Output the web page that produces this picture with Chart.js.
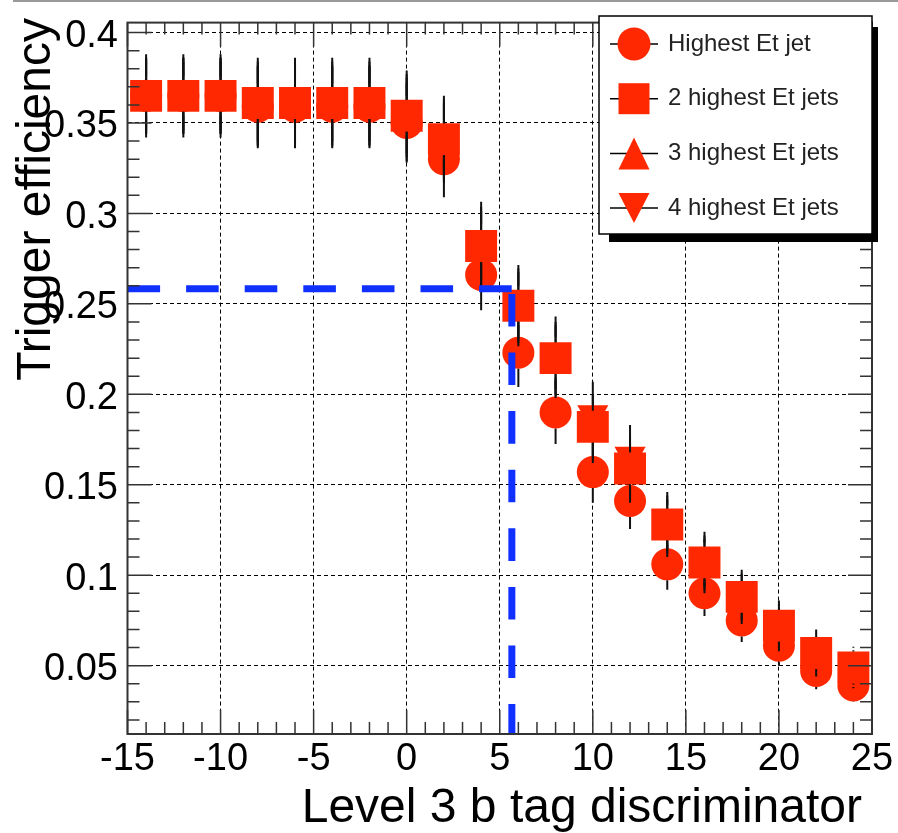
<!DOCTYPE html>
<html>
<head>
<meta charset="utf-8">
<script src="https://cdn.jsdelivr.net/npm/chart.js@4.4.1/dist/chart.umd.min.js"></script>
<style>
    html, body { margin: 0; padding: 0; background: #fff; }
    canvas { display: block; }
</style>
</head>
<body>
<canvas id="chart" width="898" height="833"></canvas>
<script>
// values
const xBins = [-14, -12, -10, -8, -6, -4, -2, 0, 2, 4, 6, 8, 10, 12, 14, 16, 18, 20, 22, 24];
const highestJet = [0.365, 0.365, 0.365, 0.359, 0.359, 0.359, 0.359, 0.350, 0.330, 0.266, 0.223, 0.190, 0.157, 0.141, 0.106, 0.090, 0.075, 0.061, 0.047, 0.039];
const twoJets    = [0.365, 0.365, 0.365, 0.361, 0.361, 0.361, 0.361, 0.354, 0.341, 0.282, 0.249, 0.220, 0.182, 0.159, 0.128, 0.107, 0.088, 0.072, 0.057, 0.049];
const threeJets  = [0.363, 0.363, 0.363, 0.359, 0.359, 0.359, 0.359, 0.352, 0.339, 0.280, 0.247, 0.218, 0.180, 0.157, 0.126, 0.105, 0.086, 0.070, 0.055, 0.047];
const fourJets   = [0.367, 0.367, 0.367, 0.363, 0.363, 0.363, 0.363, 0.356, 0.343, 0.285, 0.251, 0.223, 0.189, 0.166, 0.130, 0.109, 0.090, 0.074, 0.059, 0.051];
const errHighest = [0.021, 0.021, 0.021, 0.022, 0.022, 0.022, 0.022, 0.022, 0.021, 0.0195, 0.019, 0.0175, 0.017, 0.0155, 0.014, 0.0125, 0.012, 0.011, 0.010, 0.009];
const errMulti   = [0.021, 0.021, 0.021, 0.023, 0.023, 0.023, 0.023, 0.023, 0.022, 0.0215, 0.0205, 0.020, 0.018, 0.017, 0.016, 0.015, 0.013, 0.012, 0.011, 0.0095];

// blue cut lines
const cutHorizX = [-15, 5.65];
const cutHorizY = [0.2584, 0.2584];
const cutVertX = [5.65, 5.65];
const cutVertY = [0.2555, 0.0122];

const xTickValues = [-15, -10, -5, 0, 5, 10, 15, 20, 25];
const xTickLabels = ['-15', '-10', '-5', '0', '5', '10', '15', '20', '25'];
const yTickValues = [0.05, 0.1, 0.15, 0.2, 0.25, 0.3, 0.35, 0.4];
const yTickLabels = ['0.05', '0.1', '0.15', '0.2', '0.25', '0.3', '0.35', '0.4'];
const seriesNames = ['Highest Et jet', '2 highest Et jets', '3 highest Et jets', '4 highest Et jets'];
const xTitle = 'Level 3 b tag discriminator';
const yTitle = 'Trigger efficiency';

const X_MIN = -15, X_MAX = 25, Y_MIN = 0.0122, Y_MAX = 0.4055;
const RED = '#ff2800';
const BLUE = '#1030ff';
const FONT = '"Liberation Sans", Arial, sans-serif';

Chart.defaults.font.family = FONT;

const toPoints = (xs, ys) => xs.map((x, i) => ({ x, y: ys[i] }));

// vertical error bars, with a gap around the marker (ROOT style)
const errorBars = {
    id: 'errorBars',
    afterDatasetDraw(chart, args) {
        const ds = chart.data.datasets[args.index];
        if (!ds.errors) return;
        const { ctx, scales: { x, y } } = chart;
        ctx.save();
        ctx.strokeStyle = '#111';
        ctx.lineWidth = 2;
        ctx.beginPath();
        ds.data.forEach((p, i) => {
            const px = x.getPixelForValue(p.x);
            const py = y.getPixelForValue(p.y);
            const top = y.getPixelForValue(p.y + ds.errors[i]);
            const bot = y.getPixelForValue(p.y - ds.errors[i]);
            if (top < py - ds.gap) { ctx.moveTo(px, top); ctx.lineTo(px, py - ds.gap); }
            if (bot > py + ds.gap) { ctx.moveTo(px, py + ds.gap); ctx.lineTo(px, bot); }
        });
        ctx.stroke();
        ctx.restore();
    }
};

// frame and inner tick marks on all four sides
const frame = {
    id: 'frame',
    afterDatasetsDraw(chart) {
        const { ctx, chartArea: a, scales: { x, y } } = chart;
        ctx.save();
        ctx.strokeStyle = '#333';
        ctx.lineWidth = 1.5;
        ctx.beginPath();
        for (let v = X_MIN; v <= X_MAX; v++) {
            const len = v % 5 === 0 ? 24 : 12;
            const px = x.getPixelForValue(v);
            ctx.moveTo(px, a.bottom); ctx.lineTo(px, a.bottom - len);
            ctx.moveTo(px, a.top); ctx.lineTo(px, a.top + len);
        }
        for (let k = 2; k <= 40; k++) {
            const len = k % 5 === 0 ? 24 : 12;
            const py = y.getPixelForValue(k / 100);
            ctx.moveTo(a.left, py); ctx.lineTo(a.left + len, py);
            ctx.moveTo(a.right, py); ctx.lineTo(a.right - len, py);
        }
        ctx.stroke();
        ctx.lineWidth = 2;
        ctx.strokeRect(a.left, a.top, a.width, a.height);
        ctx.restore();
    }
};

const drawMarker = (ctx, kind, cx, cy) => {
    ctx.beginPath();
    if (kind === 0) ctx.arc(cx, cy, 16.5, 0, Math.PI * 2);
    else if (kind === 1) ctx.rect(cx - 15.5, cy - 15.5, 31, 31);
    else if (kind === 2) { ctx.moveTo(cx, cy - 16); ctx.lineTo(cx + 15.5, cy + 16); ctx.lineTo(cx - 15.5, cy + 16); }
    else { ctx.moveTo(cx, cy + 15); ctx.lineTo(cx + 15.5, cy - 15); ctx.lineTo(cx - 15.5, cy - 15); }
    ctx.closePath();
    ctx.fill();
};

// legend box with shadow, titles and the top grey rule
const decorations = {
    id: 'decorations',
    afterDraw(chart) {
        const { ctx } = chart;
        ctx.save();

        ctx.fillStyle = '#999';
        ctx.fillRect(13, 0, 885, 2);

        const bx = 599, by = 16, bw = 273, bh = 218;
        ctx.fillStyle = '#000';
        ctx.fillRect(bx + 10, by + 11, bw - 4, bh - 3);
        ctx.fillStyle = '#fff';
        ctx.fillRect(bx, by, bw, bh);
        ctx.strokeStyle = '#000';
        ctx.lineWidth = 1.5;
        ctx.strokeRect(bx, by, bw, bh);

        seriesNames.forEach((name, i) => {
            const cy = by + 28 + i * 54.7;
            ctx.strokeStyle = '#000';
            ctx.lineWidth = 1.5;
            ctx.beginPath();
            ctx.moveTo(610, cy); ctx.lineTo(658, cy);
            ctx.stroke();
            ctx.fillStyle = RED;
            drawMarker(ctx, i, 634, cy);
            ctx.fillStyle = '#222';
            ctx.font = '24px ' + FONT;
            ctx.textAlign = 'left';
            ctx.textBaseline = 'middle';
            ctx.fillText(name, 668, cy);
        });

        ctx.fillStyle = '#000';
        ctx.font = '48px ' + FONT;
        ctx.textAlign = 'right';
        ctx.textBaseline = 'alphabetic';
        ctx.fillText(xTitle, 862, 822);
        ctx.translate(50, 18);
        ctx.rotate(-Math.PI / 2);
        ctx.fillText(yTitle, 0, 0);
        ctx.restore();
    }
};

const markerSet = (label, ys, errs, style, radius, rotation, order) => ({
    label, data: toPoints(xBins, ys), errors: errs, gap: 16,
    pointStyle: style, pointRadius: radius, pointRotation: rotation,
    pointBackgroundColor: RED, pointBorderWidth: 0, order
});

const cutSet = (xs, ys) => ({
    label: 'cut', data: toPoints(xs, ys), showLine: true, pointRadius: 0,
    borderColor: BLUE, borderWidth: 7, borderDash: [32.6, 26], borderCapStyle: 'butt', order: 0
});

// drawing order: circles, triangles, squares on top, blue cut last
new Chart(document.getElementById('chart'), {
    type: 'scatter',
    data: {
        datasets: [
            markerSet(seriesNames[0], highestJet, errHighest, 'circle', 16, 0, 4),
            markerSet(seriesNames[1], twoJets, errMulti, 'rect', 22.6, 0, 1),
            markerSet(seriesNames[2], threeJets, errMulti, 'triangle', 18, 0, 3),
            markerSet(seriesNames[3], fourJets, errMulti, 'triangle', 18, 180, 2),
            cutSet(cutHorizX, cutHorizY),
            cutSet(cutVertX, cutVertY)
        ]
    },
    options: {
        responsive: false,
        animation: false,
        events: [],
        layout: { padding: { top: 16.5, right: 26, left: 0, bottom: 0 } },
        plugins: { legend: { display: false }, tooltip: { enabled: false } },
        scales: {
            x: {
                type: 'linear', min: X_MIN, max: X_MAX,
                afterBuildTicks: (s) => { s.ticks = xTickValues.map(v => ({ value: v })); },
                afterFit: (s) => { s.height = 99; s.paddingLeft = 0; s.paddingRight = 0; },
                ticks: { callback: (v, i) => xTickLabels[i], font: { size: 38 }, color: '#000', padding: 3, maxRotation: 0, autoSkip: false },
                grid: { color: '#000', lineWidth: 1, drawTicks: false },
                border: { display: false, dash: [4, 3] }
            },
            y: {
                type: 'linear', min: Y_MIN, max: Y_MAX,
                afterBuildTicks: (s) => { s.ticks = yTickValues.map(v => ({ value: v })); },
                afterFit: (s) => { s.width = 127.5; s.paddingTop = 0; s.paddingBottom = 0; },
                ticks: { callback: (v, i) => yTickLabels[i], font: { size: 38 }, color: '#000', padding: 9.5, labelOffset: 4, autoSkip: false },
                grid: { color: '#000', lineWidth: 1, drawTicks: false },
                border: { display: false, dash: [4, 3] }
            }
        }
    },
    plugins: [errorBars, frame, decorations]
});
</script>
</body>
</html>
